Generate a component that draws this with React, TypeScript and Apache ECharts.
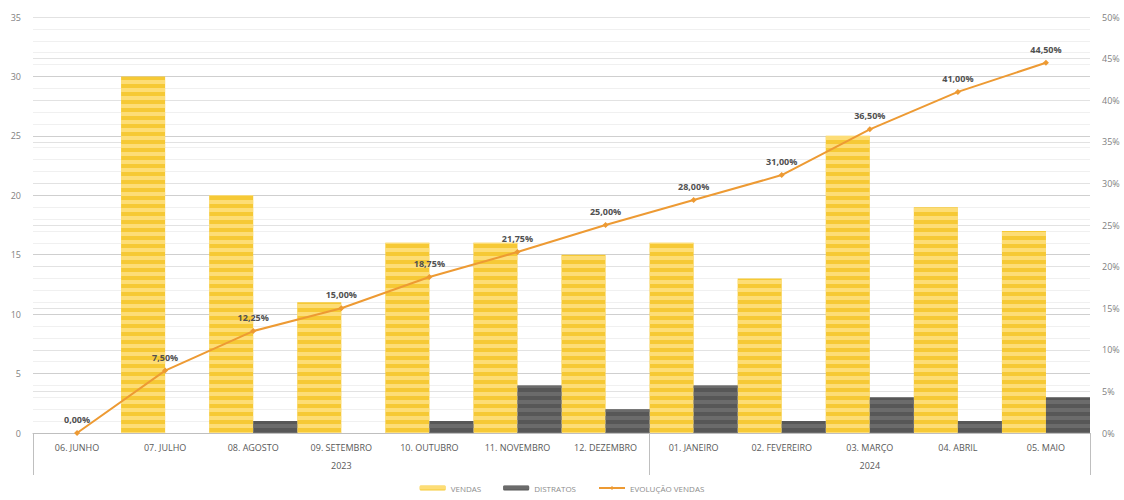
import React, { useEffect, useRef } from "react";
import * as echarts from "echarts";

const categories = [
  "06. JUNHO", "07. JULHO", "08. AGOSTO", "09. SETEMBRO", "10. OUTUBRO", "11. NOVEMBRO",
  "12. DEZEMBRO", "01. JANEIRO", "02. FEVEREIRO", "03. MARÇO", "04. ABRIL", "05. MAIO",
];
const years = ["", "", "", "2023", "", "", "", "", "", "2024", "", ""];
const vendas = [0, 30, 20, 11, 16, 16, 15, 16, 13, 25, 19, 17];
const distratos = [0, 0, 1, 0, 1, 4, 2, 4, 1, 3, 1, 3];
const evolucao = [0, 7.5, 12.25, 15, 18.75, 21.75, 25, 28, 31, 36.5, 41, 44.5];

const fmtPct = (v: number) => v.toFixed(2).replace(".", ",") + "%";

export default function App() {
  const ref = useRef<HTMLDivElement>(null);
  useEffect(() => {
    document.body.style.margin = "0";
    const chart = echarts.init(ref.current!, undefined, { renderer: "svg" });
    const font = "'Open Sans', 'Liberation Sans', sans-serif";
    chart.setOption({
      animation: false,
      textStyle: { fontFamily: font },
      grid: { left: 33, right: 34, top: 17, bottom: 67 },
      legend: {
        bottom: 3,
        left: "center",
        itemWidth: 26,
        itemHeight: 5,
        itemGap: 22,
        textStyle: { fontSize: 8, color: "#8c8c8c" },
        data: ["VENDAS", "DISTRATOS", "EVOLUÇÃO VENDAS"],
      },
      xAxis: [
        {
          type: "category",
          data: categories,
          axisLine: { lineStyle: { color: "#bfbfbf" } },
          axisTick: { show: false },
          axisLabel: { fontSize: 9, color: "#595959", margin: 10, interval: 0 },
        },
        {
          type: "category",
          data: years,
          position: "bottom",
          axisLine: { show: false },
          axisTick: {
            show: true,
            length: 42,
            lineStyle: { color: "#bfbfbf" },
            interval: (i: number) => i === 0 || i === 7 || i === 12,
          },
          axisLabel: { fontSize: 9, color: "#595959", margin: 28, interval: 0 },
        },
      ],
      yAxis: [
        {
          type: "value",
          min: 0,
          max: 35,
          interval: 5,
          axisLine: { show: false },
          axisTick: { show: false },
          axisLabel: { fontSize: 9, color: "#7f7f7f", margin: 12 },
          splitLine: { lineStyle: { color: "#cfcfcf" } },
          minorTick: { show: false, splitNumber: 5 },
          minorSplitLine: { show: true, lineStyle: { color: "#f0f0f0" } },
        },
        {
          type: "value",
          min: 0,
          max: 50,
          interval: 5,
          axisLine: { show: false },
          axisTick: { show: false },
          axisLabel: { fontSize: 9, color: "#7f7f7f", margin: 12, formatter: "{value}%" },
          splitLine: { lineStyle: { color: "#e2e2e2" } },
        },
      ],
      series: [
        {
          name: "VENDAS",
          type: "bar",
          data: vendas,
          barGap: "0%",
          barCategoryGap: "0%",
          itemStyle: {
            color: "#F6C935",
            decal: {
              symbol: "rect",
              symbolSize: 1,
              dashArrayX: [1, 0],
              dashArrayY: [4, 4],
              rotation: 0,
              color: "rgba(255,228,140,0.75)",
            },
          },
        },
        {
          name: "DISTRATOS",
          type: "bar",
          data: distratos,
          itemStyle: {
            color: "#575757",
            decal: {
              symbol: "rect",
              symbolSize: 1,
              dashArrayX: [1, 0],
              dashArrayY: [4, 4],
              rotation: 0,
              color: "rgba(115,115,115,0.7)",
            },
          },
        },
        {
          name: "EVOLUÇÃO VENDAS",
          type: "line",
          yAxisIndex: 1,
          data: evolucao,
          symbol: "diamond",
          symbolSize: 6,
          lineStyle: { color: "#ED9A33", width: 2 },
          itemStyle: { color: "#ED9A33" },
          label: {
            show: true,
            position: "top",
            distance: 6,
            fontSize: 9,
            fontWeight: "bold",
            color: "#505050",
            formatter: (p: any) => fmtPct(p.value),
          },
        },
      ],
    });
    return () => chart.dispose();
  }, []);
  return <div ref={ref} style={{ width: 1124, height: 500 }} />;
}
